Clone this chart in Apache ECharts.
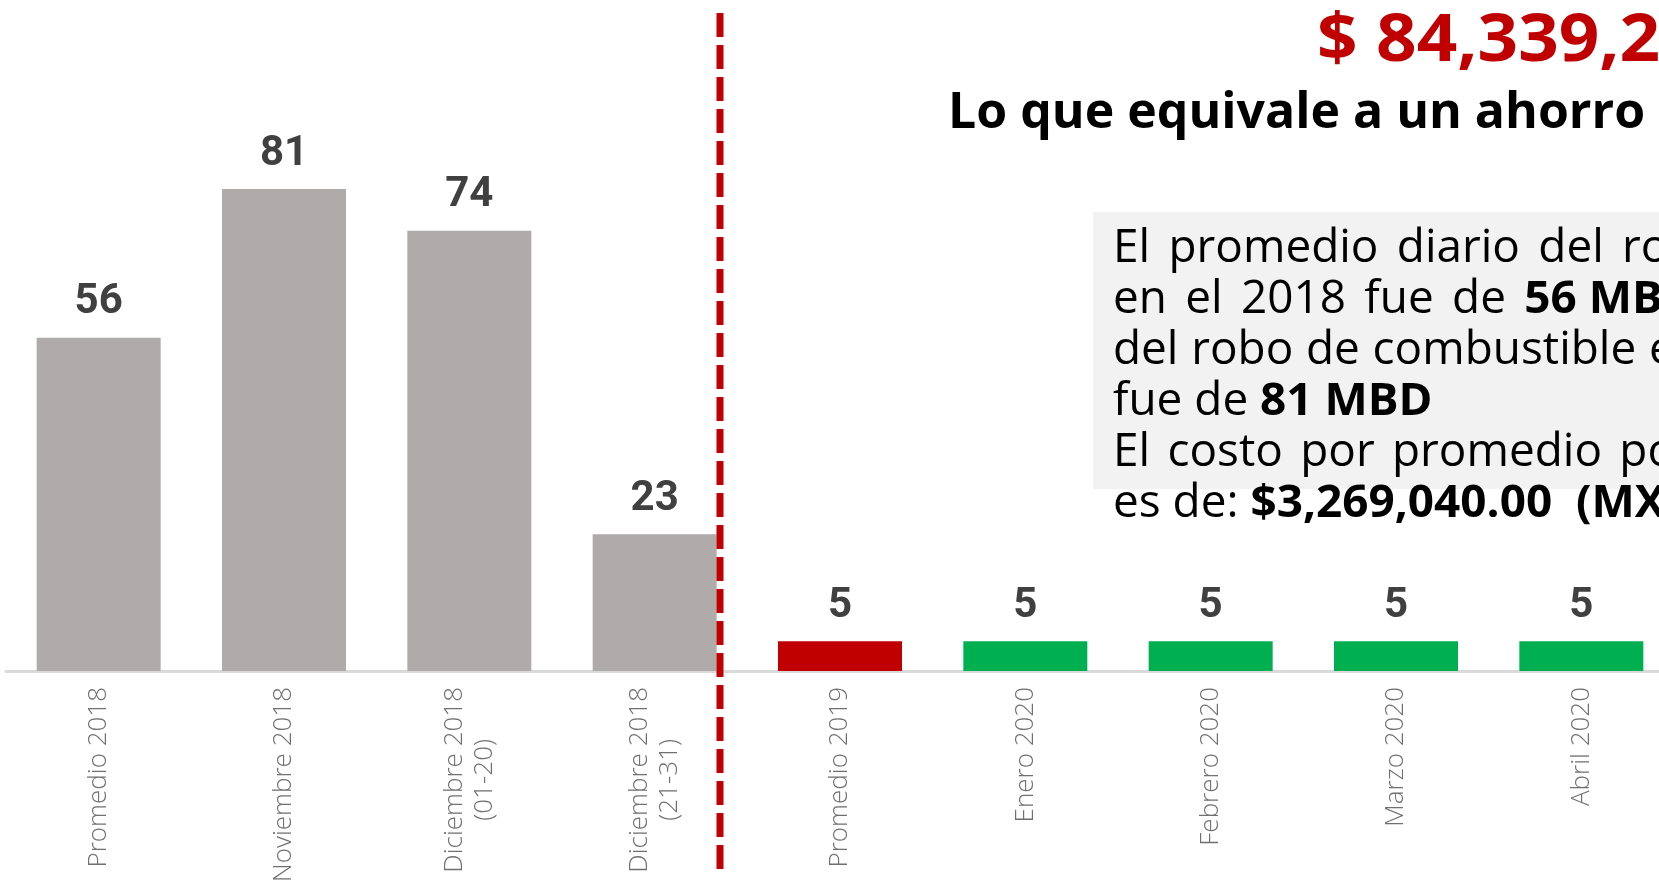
<!DOCTYPE html>
<html><head><meta charset="utf-8">
<script src="https://cdn.jsdelivr.net/npm/echarts@6/dist/echarts.min.js"></script>
<style>html,body{margin:0;padding:0;background:#fff}#c{width:1659px;height:881px}</style>
</head><body><div id="c"></div>
<script>
// ---- data ----
const categories = ['Promedio 2018', 'Noviembre 2018', 'Diciembre 2018\n(01-20)', 'Diciembre 2018\n(21-31)',
  'Promedio 2019', 'Enero 2020', 'Febrero 2020', 'Marzo 2020', 'Abril 2020'];
const values = [56, 81, 74, 23, 5, 5, 5, 5, 5];
const barColors = ['#AFABAB', '#AFABAB', '#AFABAB', '#AFABAB', '#C00000', '#00B050', '#00B050', '#00B050', '#00B050'];
const headline = '$ 84,339,27';
const subtitle = 'Lo que equivale a un ahorro de';
// each line: text parts [text, bold]
const boxLine1 = [['El promedio diario del robo', false]];
const boxLine2 = [['en el 2018 fue de', false], ['56 MBD', true]];
const boxLine3 = [['del robo de combustible en', false]];
const boxLine4 = [['fue de', false], ['81 MBD', true]];
const boxLine5 = [['El costo por promedio por', false]];
const boxLine6 = [['es de:', false], ['$3,269,040.00  (MXN)', true]];
const boxLines = [boxLine1, boxLine2, boxLine3, boxLine4, boxLine5, boxLine6];
const boxGaps = [18, 18, 12.5, 11.7, 17, 11.7];

// ---- build ----
const chart = echarts.init(document.getElementById('c'), null, {renderer: 'canvas'});

function richLine(parts) {
  const out = [];
  parts.forEach((p, i) => {
    if (p[1]) {
      out.push('{b|' + p[0] + '}');
    } else {
      const words = p[0].split(' ');
      words.forEach((w, j) => {
        out.push('{r|' + w + '}');
        if (j < words.length - 1) out.push('{g| }');
      });
    }
    if (i < parts.length - 1) out.push('{g| }');
  });
  return out.join('');
}

const boxFont = 45;
const graphics = [
  {type: 'rect', shape: {x: 1093, y: 212, width: 700, height: 277}, style: {fill: '#F2F2F2'}, z: 1},
  {type: 'text', x: 1317, y: 42, scaleX: 1.06, z: 5, style: {text: headline, fill: '#C00000',
    font: 'bold 67px "Open Sans"', align: 'left', verticalAlign: 'middle'}},
  {type: 'text', x: 948, y: 114, z: 5, style: {text: subtitle, fill: '#000000',
    font: 'bold 50px "Open Sans"', align: 'left', verticalAlign: 'middle'}},
  {type: 'line', z: 10, shape: {x1: 720, y1: 13, x2: 720, y2: 869},
    style: {stroke: '#C00000', lineWidth: 7, lineDash: [24, 8]}}
];
boxLines.forEach((ln, i) => {
  graphics.push({type: 'text', x: 1113, y: 249 + i * 51, scaleX: 1.02, z: 5, style: {
    text: richLine(ln), align: 'left', verticalAlign: 'middle',
    rich: {
      r: {fontFamily: 'Open Sans', fontSize: boxFont, fontWeight: 400, color: '#000'},
      b: {fontFamily: 'Open Sans', fontSize: boxFont, fontWeight: 700, color: '#000'},
      g: {fontFamily: 'Open Sans', fontSize: boxFont, width: boxGaps[i]}
    }
  }});
});

chart.setOption({
  backgroundColor: '#FFFFFF',
  animation: false,
  grid: {left: 6, top: 76, width: 1668, height: 595, containLabel: false, outerBoundsMode: 'none'},
  xAxis: {
    type: 'category', data: categories,
    axisLine: {lineStyle: {color: '#D9D9D9', width: 3}},
    axisTick: {show: false},
    axisLabel: {
      interval: 0, rotate: 90, margin: 16,
      formatter: v => v.split('\n').map(s => '{c|' + s + '}').join('\n'),
      rich: {c: {align: 'center', fontFamily: 'Open Sans', fontWeight: 300, fontSize: 26, color: '#707070', lineHeight: 30}}
    }
  },
  yAxis: {type: 'value', min: 0, max: 100, show: false, splitLine: {show: false}},
  series: [{
    type: 'bar', barWidth: 124,
    data: values.map((v, i) => ({value: v, itemStyle: {color: barColors[i]}})),
    label: {show: true, position: 'top', distance: 14, fontFamily: 'Roboto', fontWeight: 'bold',
      fontSize: 42, color: '#404040'}
  }],
  graphic: graphics
});
</script></body></html>
